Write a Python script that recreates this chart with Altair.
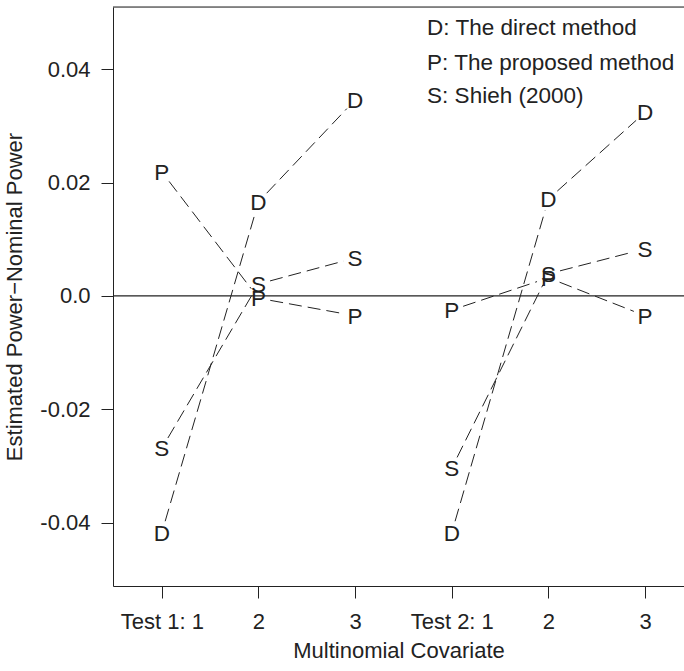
import json
import math
import altair as alt
import pandas as pd

# ---------------- data ----------------
tests = ["Test 1", "Test 2"]
levels = [1, 2, 3]
tick_labels = ["Test 1: 1", "2", "3", "Test 2: 1", "2", "3"]
series = ["D", "P", "S"]

D_test1 = [-0.0418, 0.0166, 0.0346]
P_test1 = [0.0219, -0.0004, -0.0035]
S_test1 = [-0.0269, 0.0021, 0.0067]
D_test2 = [-0.0418, 0.0171, 0.0324]
P_test2 = [-0.0025, 0.0032, -0.0035]
S_test2 = [-0.0304, 0.0039, 0.0083]

legend_lines = ["D: The direct method", "P: The proposed method", "S: Shieh (2000)"]
legend_x = [3.745, 3.745, 3.745]
legend_y = [0.0474, 0.0413, 0.0354]

y_ticks = [-0.04, -0.02, 0.0, 0.02, 0.04]

values = {
    ("D", "Test 1"): D_test1, ("P", "Test 1"): P_test1, ("S", "Test 1"): S_test1,
    ("D", "Test 2"): D_test2, ("P", "Test 2"): P_test2, ("S", "Test 2"): S_test2,
}

rows = []
for ti, t in enumerate(tests):
    for s in series:
        for li, lv in enumerate(levels):
            rows.append(dict(series=s, test=t, pos=ti * 3 + lv, value=values[(s, t)][li]))
df = pd.DataFrame(rows)

# ---------------- layout ----------------
X_DOMAIN = [0.495, 6.403]
Y_DOMAIN = [-0.0512, 0.0510]
W, H = 571, 579
FONT = "Liberation Sans"
FS = 22
FS_TEXT = 22.5
INK = "#222222"
GAP = 12  # px gap between a letter and its connecting segments (R type="b")

px_x = W / (X_DOMAIN[1] - X_DOMAIN[0])
px_y = H / (Y_DOMAIN[1] - Y_DOMAIN[0])

seg_rows = []
for (s, t), g in df.groupby(["series", "test"]):
    g = g.sort_values("pos")
    pts = list(zip(g["pos"], g["value"]))
    for (x0, y0), (x1, y1) in zip(pts[:-1], pts[1:]):
        L = math.hypot((x1 - x0) * px_x, (y1 - y0) * px_y)
        f = GAP / L
        seg_rows.append(dict(series=s, test=t,
                             x=x0 + (x1 - x0) * f, y=y0 + (y1 - y0) * f,
                             x2=x1 - (x1 - x0) * f, y2=y1 - (y1 - y0) * f))
seg_df = pd.DataFrame(seg_rows)

legend_df = pd.DataFrame({"x": legend_x, "y": legend_y, "label": legend_lines})
zero_df = pd.DataFrame({"y": [0.0]})

xscale = alt.Scale(domain=X_DOMAIN, nice=False, zero=False)
yscale = alt.Scale(domain=Y_DOMAIN, nice=False, zero=False)

x_axis = alt.Axis(
    values=[1, 2, 3, 4, 5, 6],
    labelExpr=json.dumps(tick_labels) + "[datum.value - 1]",
    grid=False, tickSize=12, labelPadding=13, tickColor=INK, domainColor=INK,
    labelColor=INK, labelFontSize=FS, labelFont=FONT, titleFont=FONT,
    titleFontSize=FS, titleFontWeight="normal", titleColor=INK, titlePadding=8,
    title="Multinomial Covariate", labelFlush=False, labelOverlap=False,
)
y_axis = alt.Axis(
    values=y_ticks,
    labelExpr="datum.value == 0 ? '0.0' : (datum.value < 0 ? '-' : '') + format(abs(datum.value), '.2f')",
    grid=False, tickSize=12, labelPadding=11, tickColor=INK, domainColor=INK,
    labelColor=INK, labelFontSize=FS, labelFont=FONT, titleFont=FONT,
    titleFontSize=FS, titleFontWeight="normal", titleColor=INK, titlePadding=13,
    title="Estimated Power\u2212Nominal Power", labelFlush=False, labelOverlap=False,
)


def X(field):
    return alt.X(f"{field}:Q", scale=xscale, axis=x_axis)


def Y(field):
    return alt.Y(f"{field}:Q", scale=yscale, axis=y_axis)


top_border = alt.Chart(zero_df).mark_rule(color=INK, strokeWidth=1.2).encode(
    x=alt.value(0), x2=alt.value(W), y=alt.value(0)
)

zero_line = alt.Chart(zero_df).mark_rule(color=INK, strokeWidth=1.2).encode(
    y=Y("y")
)

segments = alt.Chart(seg_df).mark_rule(
    color=INK, strokeWidth=1, strokeDash=[13, 6]
).encode(
    x=X("x"), y=Y("y"), x2="x2:Q", y2="y2:Q",
    detail="series:N",
)

letters = alt.Chart(df).mark_text(
    font=FONT, fontSize=FS_TEXT, color=INK, baseline="middle", align="center", dy=1
).encode(
    x=X("pos"), y=Y("value"), text="series:N"
)

legend = alt.Chart(legend_df).mark_text(
    font=FONT, fontSize=FS_TEXT, color=INK, baseline="middle", align="left", dy=1
).encode(
    x=X("x"), y=Y("y"), text="label:N"
)

chart = alt.layer(top_border, zero_line, segments, letters, legend).properties(
    width=W, height=H,
    autosize=alt.AutoSizeParams(type="none"),
    padding={"left": 113, "top": 7, "right": 0, "bottom": 85},
).configure_view(stroke=None).configure(background="white")

chart.save("out.html", embed_options={"renderer": "svg", "actions": False})
